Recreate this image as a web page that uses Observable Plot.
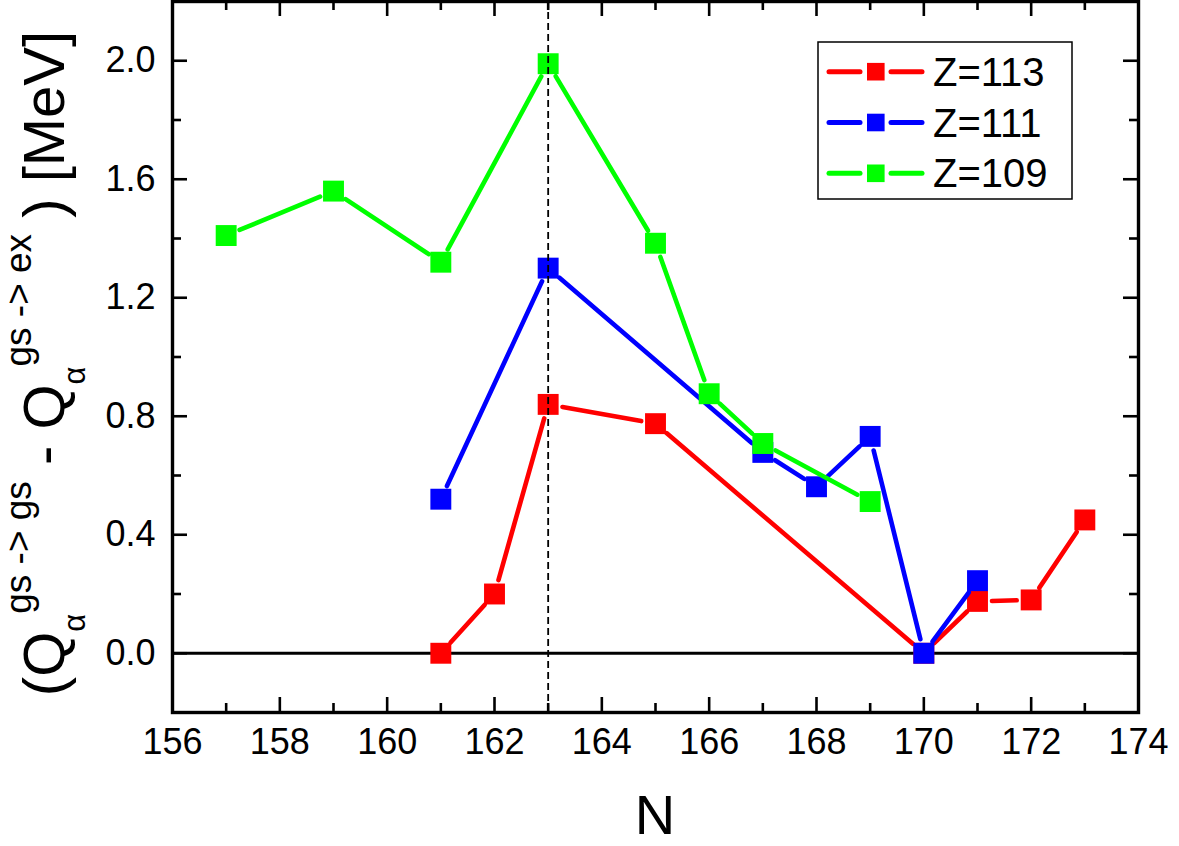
<!DOCTYPE html>
<html><head><meta charset="utf-8">
<script src="https://cdn.jsdelivr.net/npm/d3@7"></script>
<script src="https://cdn.jsdelivr.net/npm/@observablehq/plot@0.6"></script>
<style>html,body{margin:0;padding:0;background:#fff;}</style>
</head><body><div id="chart"></div>
<script>
// ---- data ----
const seriesNames = ["Z=113", "Z=111", "Z=109"];
const seriesColors = ["#ff0000", "#0000ff", "#00ff00"];
const n113 = [161, 162, 163, 165, 170, 171, 172, 173];
const q113 = [0.0, 0.20, 0.84, 0.775, 0.0, 0.175, 0.18, 0.45];
const n111 = [161, 163, 167, 168, 169, 170, 171];
const q111 = [0.52, 1.30, 0.678, 0.562, 0.732, 0.0, 0.245];
const n109 = [157, 159, 161, 163, 165, 166, 167, 169];
const q109 = [1.41, 1.56, 1.32, 1.99, 1.384, 0.876, 0.708, 0.512];
const xMajorTicks = [156, 158, 160, 162, 164, 166, 168, 170, 172, 174];
const xMinorTicks = [157, 159, 161, 163, 165, 167, 169, 171, 173];
const yMajorTicks = [0.0, 0.4, 0.8, 1.2, 1.6, 2.0];
const yMinorTicks = [0.2, 0.6, 1.0, 1.4, 1.8];
const markerLineN = [163];
const zeroLine = [0];
const xDomain = [156, 174];
const yDomain = [-0.2, 2.2];

// ---- layout ----
const W = 1179, H = 846, mL = 172, mR = 41, mT = 1, mB = 134;
const plotW = W - mL - mR, plotH = H - mT - mB;
const FONT = "'Liberation Sans', Arial, Helvetica, sans-serif";
const GAP = 14.5; // px gap between line ends and marker centres (Origin style)
const kx = plotW / (xDomain[1] - xDomain[0]);
const ky = plotH / (yDomain[1] - yDomain[0]);

const seriesN = [n113, n111, n109];
const seriesQ = [q113, q111, q109];
const series = seriesNames.map((name, k) => ({name, color: seriesColors[k], N: seriesN[k], Q: seriesQ[k]}));

function shorten(n1, q1, n2, q2) {
  const dx = (n2 - n1) * kx, dy = (q2 - q1) * ky;
  const len = Math.hypot(dx, dy);
  const f = GAP / len;
  return {N1: n1 + (n2 - n1) * f, Q1: q1 + (q2 - q1) * f, N2: n2 - (n2 - n1) * f, Q2: q2 - (q2 - q1) * f};
}

const seriesMarks = series.flatMap(s => {
  const pts = s.N.map((n, i) => ({N: n, Q: s.Q[i]}));
  const segs = s.N.slice(1).map((n, i) => shorten(s.N[i], s.Q[i], n, s.Q[i + 1]));
  return [
    Plot.link(segs, {x1: "N1", y1: "Q1", x2: "N2", y2: "Q2", stroke: s.color, strokeWidth: 4.6,
      strokeLinecap: "round"}),
    Plot.dot(pts, {x: "N", y: "Q", symbol: "square", r: 11.8, fill: s.color, stroke: "none"})
  ];
});

const svg = Plot.plot({
  width: W, height: H,
  marginLeft: mL, marginRight: mR, marginTop: mT, marginBottom: mB,
  style: {fontFamily: FONT, color: "black", background: "white", overflow: "visible"},
  x: {domain: xDomain, label: null},
  y: {domain: yDomain, label: null},
  marks: [
    Plot.ruleY(zeroLine, {stroke: "black", strokeWidth: 3}),
    // inward ticks on all four sides
    Plot.ruleX(xMajorTicks, {x: d => d, insetTop: plotH - 15, strokeWidth: 2.6}),
    Plot.ruleX(xMajorTicks, {x: d => d, insetBottom: plotH - 15, strokeWidth: 2.6}),
    Plot.ruleX(xMinorTicks, {x: d => d, insetTop: plotH - 9, strokeWidth: 2.6}),
    Plot.ruleX(xMinorTicks, {x: d => d, insetBottom: plotH - 9, strokeWidth: 2.6}),
    Plot.ruleY(yMajorTicks, {y: d => d, insetRight: plotW - 15, strokeWidth: 2.6}),
    Plot.ruleY(yMajorTicks, {y: d => d, insetLeft: plotW - 15, strokeWidth: 2.6}),
    Plot.ruleY(yMinorTicks, {y: d => d, insetRight: plotW - 9, strokeWidth: 2.6}),
    Plot.ruleY(yMinorTicks, {y: d => d, insetLeft: plotW - 9, strokeWidth: 2.6}),
    ...seriesMarks,
    Plot.ruleX(markerLineN, {x: d => d, stroke: "black", strokeWidth: 1.8, strokeDasharray: "7,4"}),
    Plot.frame({stroke: "black", strokeWidth: 3.4}),
    Plot.axisX(xMajorTicks, {tickSize: 0, tickPadding: 16, fontSize: 36, label: null}),
    Plot.axisY(yMajorTicks, {tickSize: 0, tickPadding: 17, fontSize: 36, label: null, tickFormat: d => d.toFixed(1)})
  ]
});

const g = d3.select(svg);
// x axis title
g.append("text").attr("x", mL + plotW / 2).attr("y", 834).attr("text-anchor", "middle")
  .attr("font-family", FONT).attr("font-size", 56).attr("fill", "black").text("N");

// y axis title with sub/superscripts
const yl = g.append("text")
  .attr("transform", `translate(64,${mT + plotH / 2 + 7}) rotate(-90)`)
  .attr("text-anchor", "middle").attr("font-family", FONT).attr("font-size", 58).attr("fill", "black");
const parts = [
  {t: "(Q", fs: 58, dy: 0},
  {t: "\u03B1", fs: 31, dy: 21},
  {t: "gs -> gs", fs: 37, dy: -54},
  {t: " - Q", fs: 58, dy: 33},
  {t: "\u03B1", fs: 31, dy: 21},
  {t: "gs -> ex", fs: 37, dy: -54},
  {t: " ) [MeV]", fs: 58, dy: 33}
];
parts.forEach(p => yl.append("tspan").attr("font-size", p.fs).attr("dy", p.dy).attr("xml:space", "preserve").text(p.t));

// legend
const leg = g.append("g");
leg.append("rect").attr("x", 818).attr("y", 42).attr("width", 254).attr("height", 157)
  .attr("fill", "white").attr("stroke", "black").attr("stroke-width", 1.5);
series.forEach((s, i) => {
  const cy = 71.7 + i * 50.8;
  leg.append("line").attr("x1", 829).attr("x2", 860).attr("y1", cy).attr("y2", cy)
    .attr("stroke", s.color).attr("stroke-width", 5).attr("stroke-linecap", "round");
  leg.append("line").attr("x1", 891).attr("x2", 922).attr("y1", cy).attr("y2", cy)
    .attr("stroke", s.color).attr("stroke-width", 5).attr("stroke-linecap", "round");
  leg.append("rect").attr("x", 867).attr("y", cy - 8.8).attr("width", 17.6).attr("height", 17.6).attr("fill", s.color);
  leg.append("text").attr("x", 933).attr("y", cy + 14).attr("text-anchor", "start")
    .attr("font-family", FONT).attr("font-size", 40).attr("fill", "black").text(s.name);
});

document.getElementById("chart").appendChild(svg);
</script>
</body></html>
